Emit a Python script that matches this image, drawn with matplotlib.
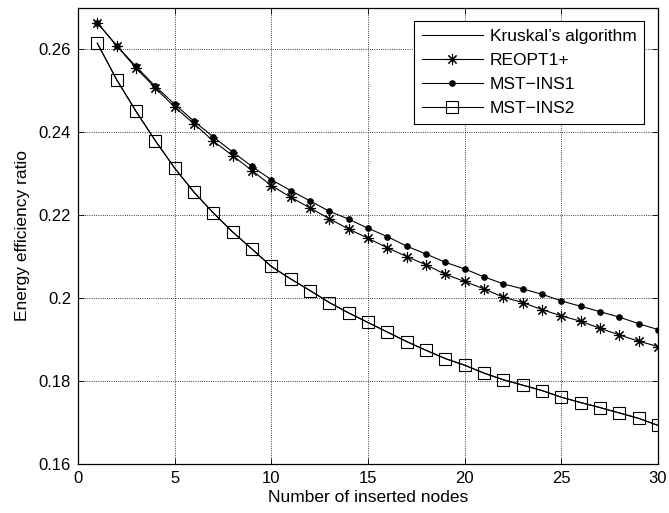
import matplotlib
matplotlib.use("Agg")
import matplotlib.pyplot as plt

plt.rcParams["font.family"] = ["Liberation Sans", "DejaVu Sans"]

# data
nodes = list(range(1, 31))
reopt1 = [0.2663, 0.2608, 0.2554, 0.2506, 0.2460, 0.2420, 0.2378, 0.2343, 0.2307, 0.2271,
          0.2243, 0.2217, 0.2191, 0.2166, 0.2144, 0.2121, 0.2100, 0.2080, 0.2057, 0.2040,
          0.2022, 0.2002, 0.1989, 0.1972, 0.1957, 0.1944, 0.1927, 0.1911, 0.1896, 0.1883]
mst_ins1 = [0.2663, 0.2608, 0.2558, 0.2510, 0.2467, 0.2426, 0.2388, 0.2352, 0.2317, 0.2285,
            0.2259, 0.2234, 0.2209, 0.2190, 0.2168, 0.2148, 0.2125, 0.2106, 0.2086, 0.2070,
            0.2051, 0.2034, 0.2022, 0.2009, 0.1993, 0.1980, 0.1967, 0.1954, 0.1938, 0.1924]
mst_ins2 = [0.2614, 0.2526, 0.2450, 0.2379, 0.2313, 0.2255, 0.2205, 0.2159, 0.2118, 0.2076,
            0.2046, 0.2018, 0.1989, 0.1964, 0.1941, 0.1918, 0.1895, 0.1874, 0.1854, 0.1838,
            0.1819, 0.1803, 0.1790, 0.1777, 0.1761, 0.1748, 0.1736, 0.1723, 0.1710, 0.1693]
kruskal = list(mst_ins2)

xticks = [0, 5, 10, 15, 20, 25, 30]
yticks = [0.16, 0.18, 0.2, 0.22, 0.24, 0.26]
ytick_labels = ["0.16", "0.18", "0.2", "0.22", "0.24", "0.26"]

fig = plt.figure(figsize=(6.69, 5.13), dpi=100)
ax = fig.add_axes([78 / 669, 1 - 464 / 513, 580 / 669, 456.5 / 513])

asterisk = (8, 2, 0)  # + and x overlaid, like the MATLAB '*'
ax.plot(nodes, kruskal, color="k", lw=0.8, label="Kruskal\u2019s algorithm")
ax.plot(nodes, reopt1, color="k", lw=0.8, marker=asterisk, ms=8, mew=0.8, label="REOPT1+")
ax.plot(nodes, mst_ins1, color="k", lw=0.8, marker="o", ms=3.8, label="MST\u2212INS1")
ax.plot(nodes, mst_ins2, color="k", lw=0.8, marker="s", ms=8, mfc="none", mew=0.8,
        label="MST\u2212INS2")

ax.set_xlim(0, 30)
ax.set_ylim(0.16, 0.27)
ax.set_xticks(xticks)
ax.set_yticks(yticks)
ax.set_yticklabels(ytick_labels)
ax.tick_params(direction="in", top=True, right=True, labelsize=12, length=4, width=0.6,
               pad=5)
ax.grid(True, ls=":", color="k", lw=0.6)
for s in ax.spines.values():
    s.set_linewidth(0.9)

ax.set_xlabel("Number of inserted nodes", fontsize=12.5, labelpad=3)
ax.set_ylabel("Energy efficiency ratio", fontsize=12.5, labelpad=6)

leg = ax.legend(loc="upper right", fontsize=12.5, numpoints=1, handlelength=3.5,
                fancybox=False, framealpha=1, edgecolor="k", borderaxespad=0.8,
                labelspacing=0.5, handletextpad=0.4, borderpad=0.45)
leg.get_frame().set_linewidth(0.8)

fig.savefig("out.png", dpi=100)
